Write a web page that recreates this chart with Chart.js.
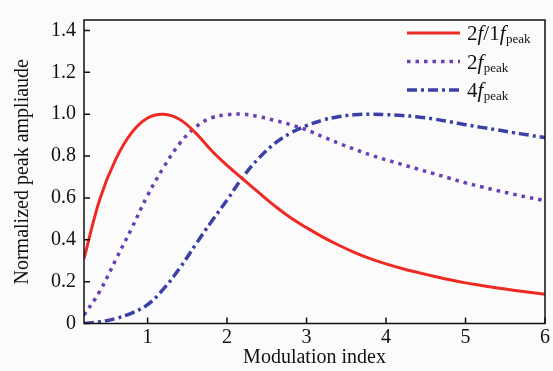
<!DOCTYPE html>
<html>
<head>
<meta charset="utf-8">
<script src="https://cdn.jsdelivr.net/npm/chart.js@4.4.0/dist/chart.umd.min.js"></script>
<style>
  html, body { margin: 0; padding: 0; background: #fbfbfb; }
  #wrap { width: 553px; height: 371px; }
</style>
</head>
<body>
<div id="wrap"><canvas id="myChart"></canvas></div>
<script>
// modulation index samples (shared by all curves), step 0.2
const modIndex = [0.2, 0.4, 0.6, 0.8, 1.0, 1.2, 1.4, 1.6, 1.8, 2.0, 2.2, 2.4, 2.6, 2.8, 3.0,
  3.2, 3.4, 3.6, 3.8, 4.0, 4.2, 4.4, 4.6, 4.8, 5.0, 5.2, 5.4, 5.6, 5.8, 6.0];

const ratio21 = [0.31, 0.595, 0.785, 0.912, 0.982, 1.0, 0.976, 0.912, 0.828, 0.755, 0.69, 0.625,
  0.562, 0.505, 0.458, 0.414, 0.375, 0.34, 0.31, 0.285, 0.263, 0.244, 0.226, 0.209, 0.194, 0.182,
  0.17, 0.159, 0.149, 0.14];

const peak2f = [0.04, 0.155, 0.305, 0.455, 0.612, 0.745, 0.858, 0.937, 0.982, 0.997, 1.0, 0.988,
  0.97, 0.95, 0.925, 0.893, 0.862, 0.833, 0.806, 0.782, 0.76, 0.738, 0.716, 0.694, 0.672, 0.653,
  0.635, 0.618, 0.602, 0.587];

const peak4f = [0.0, 0.008, 0.024, 0.05, 0.09, 0.165, 0.262, 0.375, 0.485, 0.59, 0.7, 0.79, 0.86,
  0.91, 0.945, 0.971, 0.988, 0.997, 1.0, 0.998, 0.994, 0.987, 0.977, 0.964, 0.95, 0.937, 0.925,
  0.912, 0.9, 0.888];

const xTicks = [1, 2, 3, 4, 5, 6];
const yTicks = [0, 0.2, 0.4, 0.6, 0.8, 1.0, 1.2, 1.4];

// label text: 'f' is italic, part after '_' is subscript
const labels = ["2f/1f_peak", "2f_peak", "4f_peak"];

const serif = "'Liberation Serif', 'DejaVu Serif', serif";

function pts(ys) {
  return modIndex.map((x, i) => ({ x: x, y: ys[i] }));
}

// frame, inward ticks and legend
const decor = {
  id: "decor",
  afterDraw(chart) {
    const ctx = chart.ctx;
    const a = chart.chartArea;
    const xs = chart.scales.x, ys = chart.scales.y;
    ctx.save();
    ctx.strokeStyle = "#111";
    ctx.lineWidth = 1.5;
    ctx.strokeRect(a.left, a.top, a.right - a.left, a.bottom - a.top);
    ctx.beginPath();
    xTicks.forEach(v => {
      const p = xs.getPixelForValue(v);
      ctx.moveTo(p, a.bottom);
      ctx.lineTo(p, a.bottom - 6);
    });
    yTicks.forEach(v => {
      const p = ys.getPixelForValue(v);
      ctx.moveTo(a.left, p);
      ctx.lineTo(a.left + 6, p);
    });
    ctx.stroke();

    // legend
    chart.data.datasets.forEach((ds, i) => {
      const y = a.top + 13 + i * 28.5;
      ctx.strokeStyle = ds.borderColor;
      ctx.lineWidth = ds.borderWidth;
      ctx.setLineDash(ds.borderDash || []);
      ctx.beginPath();
      ctx.moveTo(407, y);
      ctx.lineTo(460, y);
      ctx.stroke();
      ctx.setLineDash([]);

      ctx.fillStyle = "#111";
      ctx.textBaseline = "alphabetic";
      const [main, sub] = ds.label.split("_");
      let tx = 467;
      const base = y + 7;
      for (const ch of main) {
        ctx.font = (ch === "f" ? "italic " : "") + "21px " + serif;
        ctx.fillText(ch, tx, base);
        tx += ctx.measureText(ch).width;
      }
      ctx.font = "13px " + serif;
      ctx.fillText(sub, tx + 0.5, base + 3);
    });
    ctx.restore();
  }
};

const ctx = document.getElementById("myChart").getContext("2d");
const myChart = new Chart(ctx, {
  type: "line",
  data: {
    datasets: [
      {
        label: labels[0],
        data: pts(ratio21),
        borderColor: "#ee2a24",
        borderWidth: 3,
      },
      {
        label: labels[1],
        data: pts(peak2f),
        borderColor: "#6a3fb2",
        borderWidth: 3.5,
        borderDash: [3.5, 5],
      },
      {
        label: labels[2],
        data: pts(peak4f),
        borderColor: "#3b40a6",
        borderWidth: 3.5,
        borderDash: [10, 4, 3, 4],
      },
    ],
  },
  options: {
    responsive: true,
    maintainAspectRatio: false,
    animation: false,
    elements: { point: { radius: 0 }, line: { borderCapStyle: "butt", tension: 0.4 } },
    layout: { padding: { top: 11, right: 8, left: 0, bottom: 0 } },
    plugins: { legend: { display: false }, tooltip: { enabled: false } },
    scales: {
      x: {
        type: "linear",
        min: 0.2,
        max: 6,
        grid: { display: false, drawTicks: false },
        border: { display: false },
        afterBuildTicks: s => { s.ticks = xTicks.map(v => ({ value: v })); },
        afterFit: s => { s.height = 47.5; },
        ticks: {
          color: "#111",
          padding: 2,
          font: { family: serif, size: 20 },
          maxRotation: 0,
          callback: v => String(v),
        },
        title: {
          display: true,
          text: "Modulation index",
          color: "#111",
          font: { family: serif, size: 20 },
          padding: { top: 0, bottom: 1 },
        },
      },
      y: {
        min: 0,
        max: 1.45,
        grid: { display: false, drawTicks: false },
        border: { display: false },
        afterBuildTicks: s => { s.ticks = yTicks.map(v => ({ value: v })); },
        afterFit: s => { s.width = 84; },
        ticks: {
          color: "#111",
          padding: 8,
          font: { family: serif, size: 20 },
          callback: v => (v === 0 ? "0" : v.toFixed(1)),
        },
        title: {
          display: true,
          text: "Normalized peak ampliaude",
          color: "#111",
          font: { family: serif, size: 20 },
          padding: { top: 11, bottom: 0 },
        },
      },
    },
  },
  plugins: [decor],
});
</script>
</body>
</html>
